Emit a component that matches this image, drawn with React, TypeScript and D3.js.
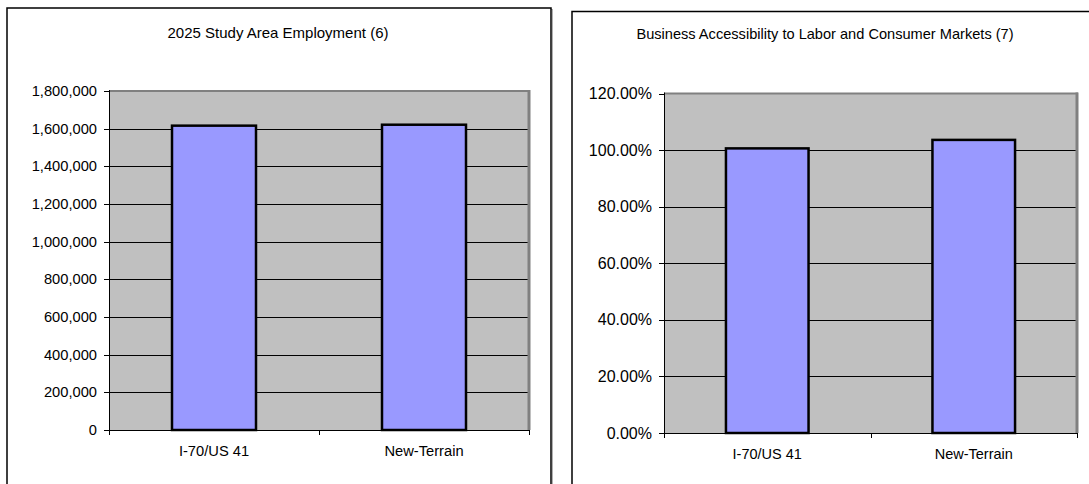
import React from "react";
import * as d3 from "d3";

const categories = ["I-70/US 41", "New-Terrain"];

const employmentTitle = "2025 Study Area Employment (6)";
const employmentValues = [1616000, 1621000];
const employmentTicks = [0, 200000, 400000, 600000, 800000, 1000000, 1200000, 1400000, 1600000, 1800000];

const accessTitle = "Business Accessibility to Labor and Consumer Markets (7)";
const accessValues = [1.006, 1.036];
const accessTicks = [0, 0.2, 0.4, 0.6, 0.8, 1.0, 1.2];

const FONT = "'Liberation Sans', Arial, sans-serif";

type PanelProps = {
  title: string;
  values: number[];
  ticks: number[];
  fmt: (v: number) => string;
  panel: { x: number; y: number; w: number; h: number };
  plot: { x0: number; x1: number; y0: number; y1: number };
  titleX: number;
  titleY: number;
  titleSize: number;
  tickSize: number;
  catSize: number;
};

function BarPanel(p: PanelProps) {
  const y = d3
    .scaleLinear()
    .domain([0, d3.max(p.ticks) as number])
    .range([p.plot.y1, p.plot.y0]);
  const x = d3
    .scaleBand<string>()
    .domain(categories)
    .range([p.plot.x0, p.plot.x1])
    .paddingInner(0.6)
    .paddingOuter(0.3);
  const band = d3.scaleBand<string>().domain(categories).range([p.plot.x0, p.plot.x1]);
  return (
    <g>
      <rect x={p.panel.x + 1.5} y={p.panel.y + 1.5} width={p.panel.w} height={p.panel.h} fill="none" stroke="#b0b0b0" strokeWidth={1} />
      <rect x={p.panel.x} y={p.panel.y} width={p.panel.w} height={p.panel.h} fill="#fff" stroke="#000" strokeWidth={1.5} />
      <text x={p.titleX} y={p.titleY} textAnchor="middle" fontFamily={FONT} fontSize={p.titleSize} fill="#000">
        {p.title}
      </text>
      <rect x={p.plot.x0} y={p.plot.y0} width={p.plot.x1 - p.plot.x0} height={p.plot.y1 - p.plot.y0} fill="#c0c0c0" />
      {p.ticks.slice(1, -1).map((t) => (
        <line key={"g" + t} x1={p.plot.x0} x2={p.plot.x1} y1={Math.round(y(t)) + 0.5} y2={Math.round(y(t)) + 0.5} stroke="#000" strokeWidth={1} />
      ))}
      <line x1={p.plot.x0} x2={p.plot.x1 + 1} y1={p.plot.y0} y2={p.plot.y0} stroke="#808080" strokeWidth={2} />
      <line x1={p.plot.x1} x2={p.plot.x1} y1={p.plot.y0 - 1} y2={p.plot.y1} stroke="#808080" strokeWidth={3} />
      {p.values.map((v, i) => (
        <rect
          key={"b" + i}
          x={x(categories[i])}
          y={y(v)}
          width={x.bandwidth()}
          height={p.plot.y1 - y(v)}
          fill="#9999ff"
          stroke="#000"
          strokeWidth={2.5}
        />
      ))}
      <line x1={p.plot.x0 + 0.5} x2={p.plot.x0 + 0.5} y1={p.plot.y0 - 1} y2={p.plot.y1} stroke="#000" strokeWidth={1} />
      {p.ticks.map((t) => (
        <g key={"t" + t}>
          <line x1={p.plot.x0 - 5} x2={p.plot.x0} y1={Math.round(y(t)) + 0.5} y2={Math.round(y(t)) + 0.5} stroke="#000" strokeWidth={1} />
          <text x={p.plot.x0 - 12} y={y(t)} dy="0.35em" textAnchor="end" fontFamily={FONT} fontSize={p.tickSize} fill="#000">
            {p.fmt(t)}
          </text>
        </g>
      ))}
      <line x1={p.plot.x0} x2={p.plot.x1 + 1} y1={p.plot.y1 + 0.5} y2={p.plot.y1 + 0.5} stroke="#000" strokeWidth={1} />
      {[...categories.map((c) => band(c) as number), p.plot.x1].map((bx, i) => (
        <line key={"xt" + i} x1={Math.round(bx) + 0.5} x2={Math.round(bx) + 0.5} y1={p.plot.y1} y2={p.plot.y1 + 5} stroke="#000" strokeWidth={1} />
      ))}
      {categories.map((c) => (
        <text key={"c" + c} x={(band(c) as number) + band.bandwidth() / 2} y={p.plot.y1 + 26} textAnchor="middle" fontFamily={FONT} fontSize={p.catSize} fill="#000">
          {c}
        </text>
      ))}
    </g>
  );
}

export default function App() {
  const fmtEmp = d3.format(",");
  const fmtPct = d3.format(".2%");
  return (
    <svg width={1089} height={484} style={{ position: "absolute", left: 0, top: 0, background: "#fff" }}>
      <BarPanel
        title={employmentTitle}
        values={employmentValues}
        ticks={employmentTicks}
        fmt={fmtEmp}
        panel={{ x: 7, y: 8, w: 544, h: 490 }}
        plot={{ x0: 109, x1: 529, y0: 91, y1: 430 }}
        titleX={278}
        titleY={38}
        titleSize={15}
        tickSize={14.7}
        catSize={14.7}
      />
      <BarPanel
        title={accessTitle}
        values={accessValues}
        ticks={accessTicks}
        fmt={fmtPct}
        panel={{ x: 572, y: 11.5, w: 544, h: 490 }}
        plot={{ x0: 664, x1: 1077, y0: 93.5, y1: 433 }}
        titleX={825}
        titleY={39}
        titleSize={14.6}
        tickSize={16}
        catSize={14.5}
      />
    </svg>
  );
}
